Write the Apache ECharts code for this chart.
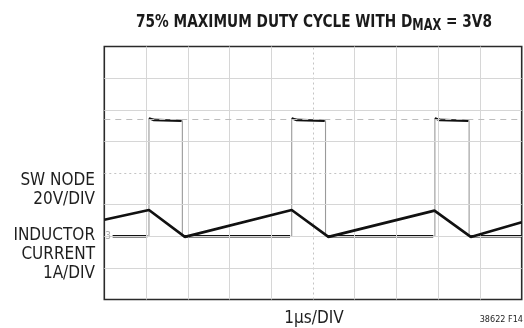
<!DOCTYPE html>
<html>
<head>
<meta charset="utf-8">
<script src="https://cdn.jsdelivr.net/npm/echarts@6/dist/echarts.min.js"></script>
<style>
  html, body { margin: 0; padding: 0; background: #fff; }
  #chart { width: 524px; height: 328px; }
</style>
</head>
<body>
<div id="chart"></div>
<script>
// Scope screen: 10 horizontal divisions (1 µs each), 8 vertical divisions.
const xDivs = [0, 1, 2, 3, 4, 5, 6, 7, 8, 9, 10];
const yDivs = [0, 1, 2, 3, 4, 5, 6, 7, 8];

// SW node trace (in screen divisions, 20V/DIV)
const swStart = 0.2;                 // trace begins just right of the channel marker
const swRise = [1.07, 4.49, 7.92];   // µs
const swFall = [1.87, 5.30, 8.74];   // µs
const swLow = 2.0;                   // div (ground marker level)
const swHigh = 5.65;                 // div
const swOvershoot = 5.73;            // div, small ring on each rising edge
const swCursor = 5.71;               // dashed reference level, div

// Inductor current trace (in screen divisions, 1A/DIV): [µs, div]
const currentTrace = [
  [0, 2.52], [1.07, 2.83], [1.93, 1.98], [4.49, 2.83],
  [5.37, 1.98], [7.91, 2.81], [8.78, 1.98], [10, 2.44]
];

const FONT = "'Liberation Sans Narrow', 'DejaVu Sans Condensed', 'Roboto', sans-serif";

// Full SW waveform including its fast edges
const swEdges = [[swStart, swLow]];
swRise.forEach((r, i) => {
  swEdges.push([r, swLow], [r, swOvershoot], [swFall[i], swHigh], [swFall[i], swLow]);
});
swEdges.push([10, swLow]);

// Flat portions of SW, drawn heavier (nulls break the line between segments)
const swFlats = [];
let t0 = swStart;
swRise.forEach((r, i) => {
  swFlats.push([t0, swLow], [r - 0.04, swLow], [null, null]);
  swFlats.push([r, swOvershoot], [r + 0.12, swHigh + 0.02], [swFall[i] - 0.02, swHigh], [null, null]);
  t0 = swFall[i] + 0.05;
});
swFlats.push([t0, swLow], [10, swLow]);

const gridColor = '#d6d6d6';
const vLines = xDivs.slice(1, -1).map(v => ({
  xAxis: v,
  lineStyle: { color: v === 5 ? '#c4c4c4' : gridColor, type: v === 5 ? [2, 3] : 'solid', width: 1 }
}));
const hLines = yDivs.slice(1, -1).map(v => ({
  yAxis: v,
  lineStyle: { color: v === 4 ? '#c4c4c4' : gridColor, type: v === 4 ? [2, 3] : 'solid', width: 1 }
}));

const chart = echarts.init(document.getElementById('chart'), null, { renderer: 'canvas' });
chart.setOption({
  animation: false,
  backgroundColor: '#fff',
  grid: {
    left: 104.3, top: 46.5, width: 417.4, height: 253,
    show: true, borderColor: '#2a2a2a', borderWidth: 1.6, backgroundColor: '#fff'
  },
  xAxis: {
    type: 'value', min: 0, max: 10, interval: 1,
    axisLine: { show: false }, axisTick: { show: false }, axisLabel: { show: false },
    splitLine: { show: false }
  },
  yAxis: {
    type: 'value', min: 0, max: 8, interval: 1,
    axisLine: { show: false }, axisTick: { show: false }, axisLabel: { show: false },
    splitLine: { show: false }
  },
  series: [
    {
      name: 'grid',
      type: 'line',
      data: [],
      silent: true,
      markLine: {
        silent: true, symbol: 'none', label: { show: false }, animation: false,
        data: vLines.concat(hLines).concat([{
          yAxis: swCursor, lineStyle: { color: '#bdbdbd', type: [6, 5], width: 1 }
        }])
      }
    },
    {
      name: 'SW edges',
      type: 'line',
      data: swEdges,
      showSymbol: false,
      lineStyle: { color: '#9a9a9a', width: 1.1 },
      z: 3
    },
    {
      name: 'SW NODE',
      type: 'line',
      data: swFlats,
      showSymbol: false,
      connectNulls: false,
      lineStyle: { color: '#111', width: 2.3 },
      z: 4,
      markPoint: {
        symbol: 'circle', symbolSize: 0,
        label: { show: true, formatter: '3', color: '#b0b0b0', fontFamily: FONT, fontSize: 10, position: 'inside' },
        data: [{ coord: [0.09, swLow] }]
      }
    },
    {
      name: 'INDUCTOR CURRENT',
      type: 'line',
      data: currentTrace,
      showSymbol: false,
      lineStyle: { color: '#111', width: 2.6 },
      z: 5
    }
  ],
  graphic: [
    {
      type: 'text', x: 314, y: 12, scaleX: 0.845,
      style: {
        text: '{a|75% MAXIMUM DUTY CYCLE WITH D}{s|MAX}{a| = 3V8}',
        textAlign: 'center', textVerticalAlign: 'top',
        rich: {
          a: { fontFamily: FONT, fontSize: 18, fontWeight: 'bold', fill: '#1a1a1a', lineHeight: 20 },
          s: { fontFamily: FONT, fontSize: 15, fontWeight: 'bold', fill: '#1a1a1a', padding: [9, 0, 0, 0], lineHeight: 15 }
        }
      }
    },
    { type: 'text', x: 95, y: 171, style: { text: 'SW NODE\n20V/DIV', textAlign: 'right', font: "17px " + FONT, fill: '#1e1e1e', lineHeight: 19 } },
    { type: 'text', x: 95, y: 226.5, style: { text: 'INDUCTOR\nCURRENT\n1A/DIV', textAlign: 'right', font: "17px " + FONT, fill: '#1e1e1e', lineHeight: 19 } },
    { type: 'text', x: 314, y: 310, style: { text: '1µs/DIV', textAlign: 'center', font: "17px " + FONT, fill: '#1e1e1e' } },
    { type: 'text', x: 523, y: 315, style: { text: '38622 F14', textAlign: 'right', font: "9px " + FONT, fill: '#1e1e1e' } }
  ]
});
</script>
</body>
</html>
